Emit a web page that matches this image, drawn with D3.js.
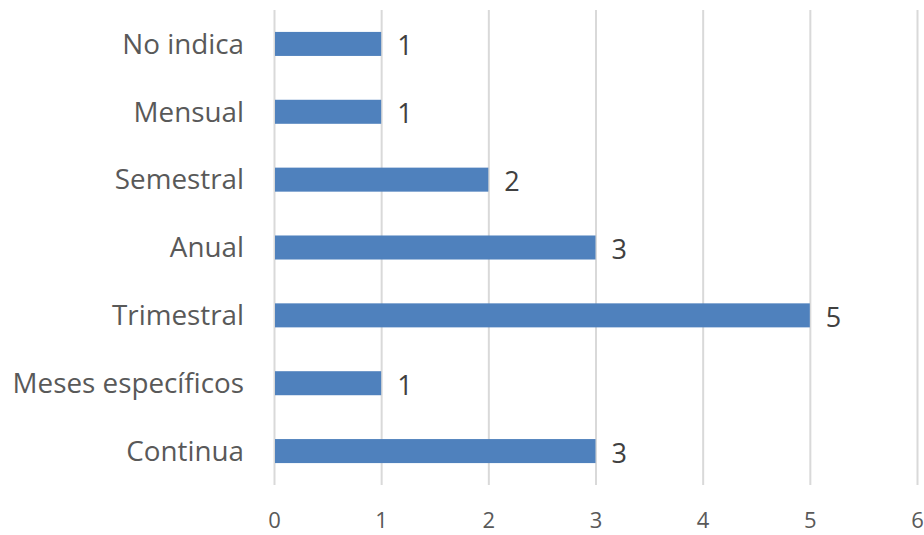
<!DOCTYPE html>
<html><head><meta charset="utf-8">
<script src="https://cdn.jsdelivr.net/npm/d3@7"></script>
<style>body{margin:0;background:#fff}svg{display:block}</style>
</head><body>
<script>
const categories = ["No indica","Mensual","Semestral","Anual","Trimestral","Meses específicos","Continua"];
const values = [1,1,2,3,5,1,3];
const ticks = [0,1,2,3,4,5,6];

const W=924,H=535;
const svg=d3.select("body").append("svg").attr("width",W).attr("height",H);
const x=d3.scaleLinear().domain([0,6]).range([274,917]);
const y=d3.scaleBand().domain(categories).range([10,485]).paddingInner(0.646).paddingOuter(0.323);
const font="'Open Sans', sans-serif";

const grid=svg.append("g").attr("transform","translate(0,485)")
 .call(d3.axisBottom(x).tickValues(ticks).tickSize(-475).tickFormat(d=>d));
grid.select(".domain").remove();
grid.selectAll(".tick line").attr("stroke","#d9d9d9").attr("stroke-width",2);
grid.selectAll(".tick text").attr("fill","#595959").attr("font-size",22).attr("font-family",font).attr("dy",0).attr("y",43);

svg.selectAll("rect.bar").data(values).join("rect").attr("class","bar")
 .attr("x",x(0)+1).attr("y",(d,i)=>y(categories[i])).attr("height",y.bandwidth())
 .attr("width",d=>x(d)-x(0)-1).attr("fill","#4f81bd");

const ya=svg.append("g").attr("transform","translate(274,0)")
 .call(d3.axisLeft(y).tickSize(0).tickPadding(30));
ya.select(".domain").remove();
ya.selectAll(".tick text").attr("fill","#595959").attr("font-size",27.8).attr("font-family",font).attr("dy","0.35em");

svg.selectAll("text.lbl").data(values).join("text").attr("class","lbl")
 .attr("x",d=>x(d)+16).attr("y",(d,i)=>y(categories[i])+y.bandwidth()/2+2).attr("dy","0.35em")
 .attr("fill","#404040").attr("font-size",27).attr("font-family",font).text(d=>d);
</script>
</body></html>
